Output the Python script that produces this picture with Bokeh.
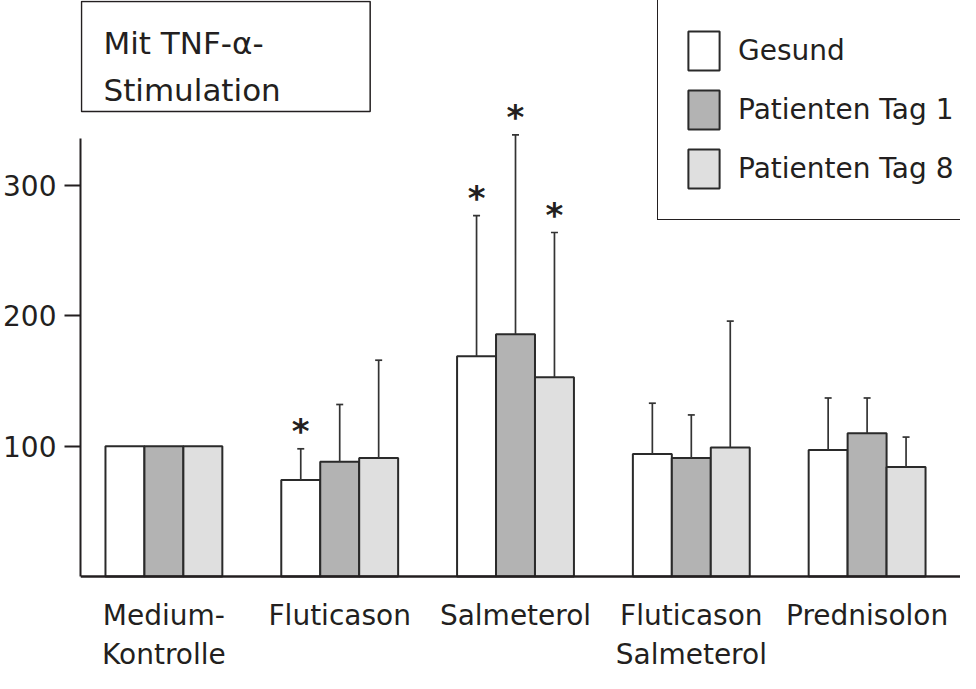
from bokeh.plotting import figure
from bokeh.models import (Range1d, FixedTicker, Span, BoxAnnotation, Label,
                          Legend, LegendItem, ColumnDataSource)
from bokeh.core.properties import value
from bokeh.embed import file_html
from bokeh.resources import INLINE

# ---------------- data ----------------
cat_line1 = ["Medium-", "Fluticason", "Salmeterol", "Fluticason", "Prednisolon"]
cat_line2 = ["Kontrolle", "", "", "Salmeterol", ""]
series = ["Gesund", "Patienten Tag 1", "Patienten Tag 8"]

gesund = [100, 74, 169, 94, 97]
tag1 = [100, 88, 186, 91, 110]
tag8 = [100, 91, 153, 99, 84]

err_gesund = [0, 24, 108, 39, 40]
err_tag1 = [0, 44, 153, 33, 27]
err_tag8 = [0, 75, 111, 97, 23]

sig_gesund = [False, True, True, False, False]
sig_tag1 = [False, False, True, False, False]
sig_tag8 = [False, False, True, False, False]

y_ticks = [100, 200, 300]

title_lines = ["Mit TNF-\u03b1-", "Stimulation"]

# ---------------- layout ----------------
W, H = 960, 673
LEFT = 79                 # frame left in canvas px
PX_GROUP = 176.0          # px between group centres
PX_UNIT = 1.303           # px per y unit
ZERO_Y = 576              # canvas px of y = 0
BAR_W = 39.0 / PX_GROUP
offsets = [-BAR_W, 0.0, BAR_W]
fills = ["#ffffff", "#b3b3b3", "#dfdfdf"]
INK = "#231f20"
FONT = "DejaVu Sans"
BASE_SHIFT = 11           # rendered alphabetic baseline sits this far lower

x_start = -(170.5 - 8 - LEFT) / PX_GROUP
x_end = x_start + (W - LEFT) / PX_GROUP
y_end = ZERO_Y / PX_UNIT
y_start = -(H - ZERO_Y) / PX_UNIT


def dx(page_x):
    return x_start + (page_x - 8 - LEFT) / PX_GROUP


def dy(page_y):
    return (ZERO_Y - (page_y - 8)) / PX_UNIT


p = figure(width=W, height=H, x_range=Range1d(x_start, x_end),
           y_range=Range1d(y_start, y_end), output_backend="svg",
           toolbar_location=None, x_axis_location=None,
           min_border_left=LEFT, min_border_right=0, min_border_top=0,
           min_border_bottom=0)
p.grid.visible = False
p.outline_line_color = None
p.background_fill_color = "white"

yax = p.yaxis[0]
yax.ticker = FixedTicker(ticks=y_ticks)
yax.bounds = (0, 336)
yax.axis_line_width = 2
yax.axis_line_color = INK
yax.major_tick_out = 16
yax.major_tick_in = 0
yax.major_tick_line_width = 2
yax.major_tick_line_color = INK
yax.minor_tick_out = 0
yax.minor_tick_in = 0
yax.major_label_standoff = 8
yax.major_label_text_font = FONT
yax.major_label_text_font_size = "28px"
yax.major_label_text_color = INK

# baseline (x axis line)
p.add_layout(Span(location=0, dimension="width", line_width=2.5, line_color=INK))

values = [gesund, tag1, tag8]
errs = [err_gesund, err_tag1, err_tag8]
sigs = [sig_gesund, sig_tag1, sig_tag8]

bar_renderers = []
for j in range(3):
    xs = [i + offsets[j] for i in range(len(cat_line1))]
    src = ColumnDataSource(dict(x=xs, top=values[j]))
    r = p.vbar(x="x", top="top", bottom=0, width=BAR_W, source=src,
               fill_color=fills[j], line_color="#2a2a2a", line_width=2)
    bar_renderers.append(r)

    ex, ey0, ey1 = [], [], []
    for i in range(len(xs)):
        if errs[j][i] > 0:
            ex.append(xs[i])
            ey0.append(values[j][i])
            ey1.append(values[j][i] + errs[j][i])
    esrc = ColumnDataSource(dict(x=ex, y0=ey0, y1=ey1))
    p.segment(x0="x", y0="y0", x1="x", y1="y1", source=esrc,
              line_color="#333333", line_width=1.7)
    p.scatter(x="x", y="y1", source=esrc, marker="dash", size=7,
              line_color="#333333", line_width=1.7)

    sx, sy = [], []
    for i in range(len(xs)):
        if sigs[j][i]:
            sx.append(xs[i])
            sy.append(values[j][i] + errs[j][i])
    ssrc = ColumnDataSource(dict(x=sx, y=sy, t=["*"] * len(sx)))
    p.text(x="x", y="y", text="t", source=ssrc, text_align="center",
           text_baseline="alphabetic", y_offset=-18,
           text_font=value(FONT), text_font_size="34px",
           text_font_style="bold", text_color=INK)

# category labels
cx = list(range(len(cat_line1)))
p.text(x=cx, y=[0] * len(cx), text=cat_line1, text_align="center",
       text_baseline="alphabetic", y_offset=49.5 - BASE_SHIFT,
       text_font=value(FONT), text_font_size="28px", text_color=INK)
p.text(x=cx, y=[0] * len(cx), text=cat_line2, text_align="center",
       text_baseline="alphabetic", y_offset=89 - BASE_SHIFT,
       text_font=value(FONT), text_font_size="28px", text_color=INK)

# title box
p.add_layout(BoxAnnotation(left=dx(88), right=dx(377), top=dy(9), bottom=dy(119),
                           fill_color="white", fill_alpha=1.0,
                           line_color=INK, line_width=1.5, line_alpha=1.0))
p.add_layout(Label(x=dx(110), y=dy(61 - BASE_SHIFT), text=title_lines[0],
                   text_font=FONT, text_font_size="31px", text_color=INK,
                   text_baseline="alphabetic"))
p.add_layout(Label(x=dx(110), y=dy(108 - BASE_SHIFT), text=title_lines[1],
                   text_font=FONT, text_font_size="31px", text_color=INK,
                   text_baseline="alphabetic"))

# legend
PAD, GH, GW, SP = 26, 49, 39, 10
leg_h = 2 * PAD + 3 * GH + 2 * SP
leg = Legend(items=[LegendItem(label=series[j], renderers=[bar_renderers[j]])
                    for j in range(3)],
             location=(664 - 8 - LEFT, H - 1 - leg_h),
             glyph_width=GW, glyph_height=GH, spacing=SP, padding=PAD,
             label_standoff=15, label_height=GH, margin=0,
             label_text_font=FONT, label_text_font_size="28px",
             label_text_color=INK, border_line_color=INK,
             border_line_width=1.5, border_line_alpha=1.0,
             background_fill_color="white", background_fill_alpha=1.0)
p.add_layout(leg)

open("out.html", "w").write(file_html(p, INLINE))
